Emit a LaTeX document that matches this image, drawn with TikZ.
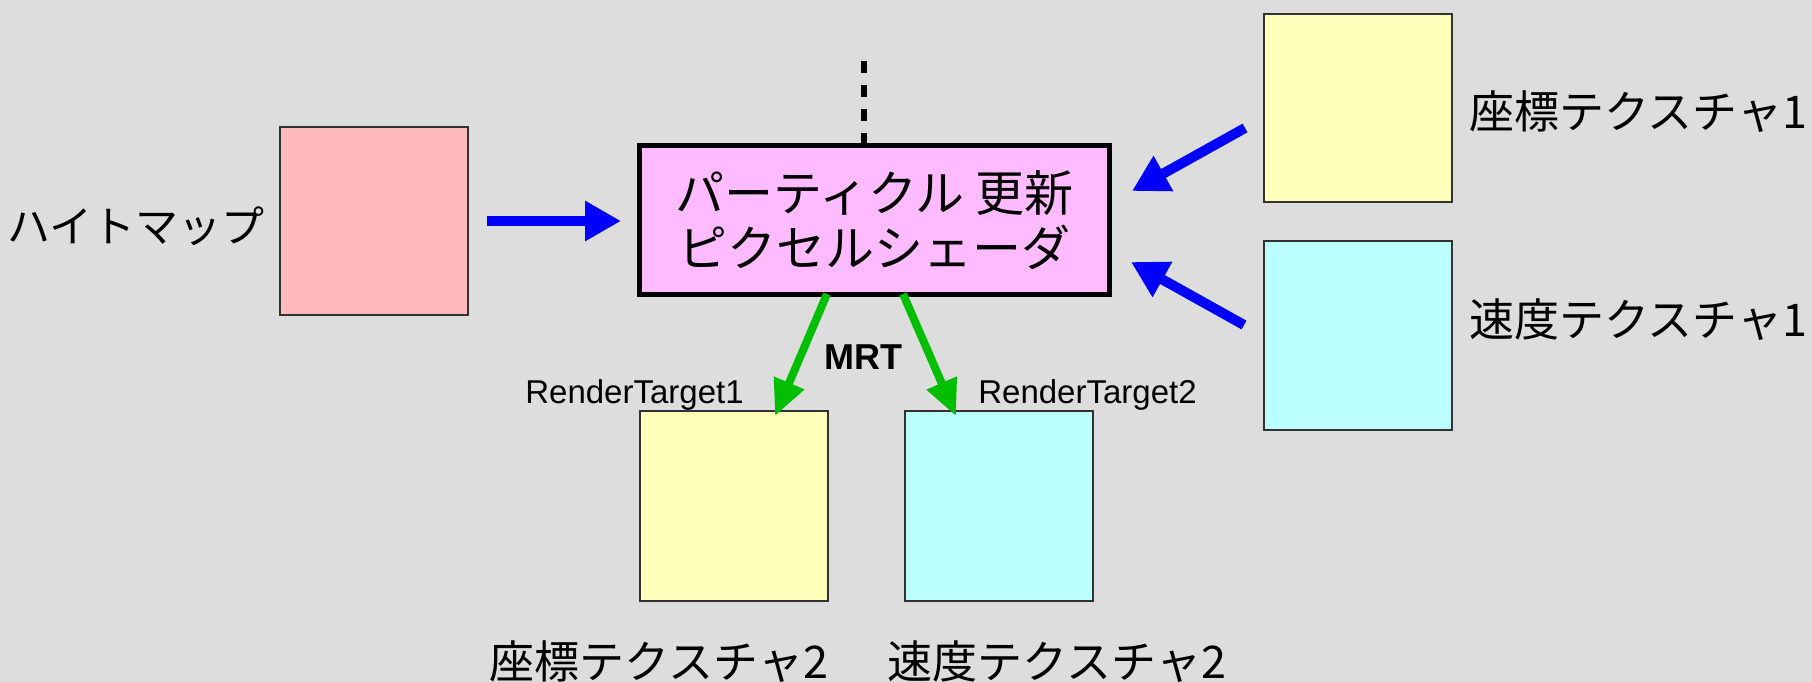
\documentclass[tikz,border=0pt]{standalone}
\usepackage{fontspec}
\setmainfont{Liberation Sans}
\newfontfamily\jp{Noto Sans CJK JP}
\usetikzlibrary{arrows.meta,calc}
\definecolor{bg}{RGB}{221,221,221}
\definecolor{pinkf}{RGB}{255,187,187}
\definecolor{yelf}{RGB}{255,255,187}
\definecolor{cyanf}{RGB}{187,255,255}
\definecolor{shadf}{RGB}{255,187,255}
\definecolor{bordr}{RGB}{50,50,50}
\definecolor{arrblue}{RGB}{0,0,255}
\definecolor{arrgreen}{RGB}{0,190,0}
\tikzset{
  texbox/.style={draw=bordr,line width=2pt,rectangle,inner sep=0pt,minimum width=188pt,minimum height=188pt},
  shaderbox/.style={draw=black,line width=5pt,fill=shadf,rectangle,inner sep=0pt,minimum width=470pt,minimum height=148pt,align=center,font=\jp\fontsize{49}{55}\selectfont},
  jplabel/.style={inner sep=0pt,font=\jp\fontsize{45}{50}\selectfont},
  rtlabel/.style={inner sep=0pt,font=\fontsize{33}{38}\selectfont},
  bluearrow/.style={draw=arrblue,line width=10pt,-{Triangle[length=36pt,width=38pt]}},
  greenarrow/.style={draw=arrgreen,line width=8pt,-{Triangle[length=36pt,width=31pt]}},
  dashline/.style={draw=black,line width=6pt,dash pattern=on 12pt off 12pt}
}
\begin{document}
\begin{tikzpicture}[x=1pt,y=-1pt]
\fill[bg] (0,0) rectangle (1812,682);
\useasboundingbox (0,0) rectangle (1812,682);
% boxes
\node[texbox,fill=pinkf] (hmap) at (374,221) {};
\node[texbox,fill=yelf] (tex1) at (1358,108) {};
\node[texbox,fill=cyanf,minimum height=189pt] (vel1) at (1358,335) {};
\node[texbox,fill=yelf,minimum height=190pt] (tex2) at (734,505.5) {};
\node[texbox,fill=cyanf,minimum height=190pt] (vel2) at (999,505.5) {};
\node[shaderbox] (shader) at (874.5,220) {パーティクル 更新\\ピクセルシェーダ};
% labels
\node[jplabel,font=\jp\fontsize{43}{50}\selectfont] (lhmap) at (136,226) {ハイトマップ};
\node[jplabel,anchor=west] (ltex1) at (1469,112) {座標テクスチャ1};
\node[jplabel,anchor=west] (lvel1) at (1469,320) {速度テクスチャ1};
\node[jplabel] (ltex2) at (659,662) {座標テクスチャ2};
\node[jplabel] (lvel2) at (1057,662) {速度テクスチャ2};
\node[inner sep=0pt,anchor=base,font=\bfseries\fontsize{36}{40}\selectfont] (mrt) at (863.5,369) {MRT};
\node[rtlabel,anchor=base] (rt1) at (634.5,403) {RenderTarget1};
\node[rtlabel,anchor=base] (rt2) at (1087.5,403) {RenderTarget2};
% connector ends
\coordinate (h0) at (487,221);
\coordinate (h1) at (621,221);
\coordinate (t0) at (1245,128);
\coordinate (t1) at (1132,191);
\coordinate (v0) at (1244,325);
\coordinate (v1) at (1131,262);
\coordinate (g0) at (827,294);
\coordinate (g1) at (775,416);
\coordinate (g2) at (903,294);
\coordinate (g3) at (956,416);
\coordinate (d0) at (863.5,61);
% connectors
\draw[dashline] (d0) -- (shader.north -| d0);
\draw[bluearrow] (h0) -- (h1);
\draw[bluearrow] (t0) -- (t1);
\draw[bluearrow] (v0) -- (v1);
\draw[greenarrow] (g0) -- (g1);
\draw[greenarrow] (g2) -- (g3);
\end{tikzpicture}
\end{document}
